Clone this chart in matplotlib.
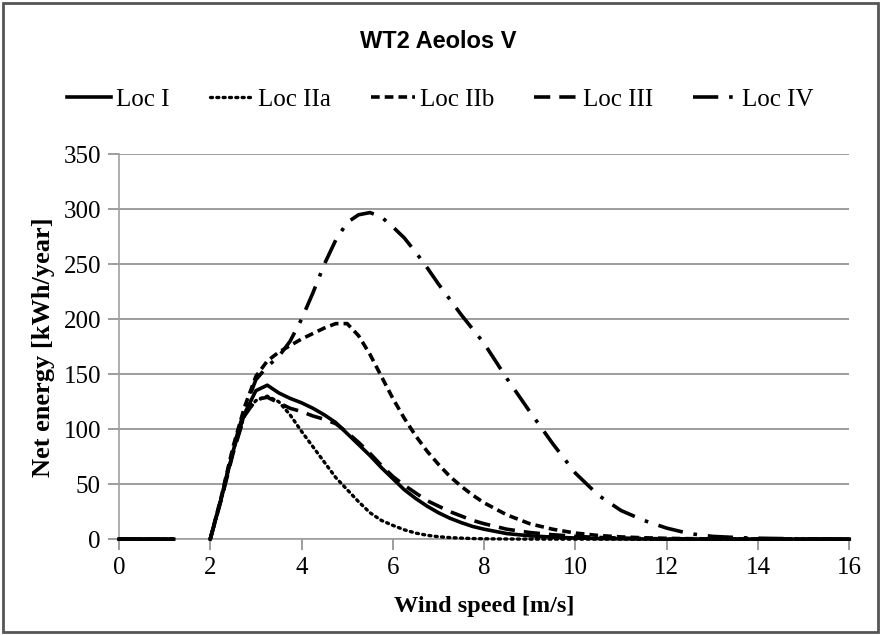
import numpy as np
import matplotlib
matplotlib.use('Agg')
import matplotlib.pyplot as plt
from matplotlib.patches import Rectangle

nan = np.nan

# wind speed [m/s]; gap between 1.2 and 2 in the original chart
wind = [0, 0.6, 1.2, 1.6,
        2.0, 2.25, 2.5, 2.75, 3.0, 3.25, 3.5, 3.75, 4.0, 4.25, 4.5, 4.75,
        5.0, 5.25, 5.5, 5.75, 6.0, 6.25, 6.5, 6.75, 7.0, 7.25, 7.5, 7.75,
        8.0, 8.5, 9.0, 9.5, 10.0, 10.5, 11.0, 11.5, 12.0, 12.5, 13.0,
        13.5, 14.0, 15.0, 16.0]

loc1 = [0, 0, 0, nan,
        0, 38, 80, 114, 135, 140, 133, 128, 124, 119, 113, 106,
        96, 86, 76, 65, 55, 45, 37, 30, 24, 19, 15, 11.5,
        9, 5, 3, 1.8, 1, 0.5, 0.3, 0.1, 0, 0, 0,
        0, 0, 0, 0]
loc2a = [0, 0, 0, nan,
         0, 38, 80, 113, 126, 130, 125, 113, 98, 84, 70, 56,
         45, 34, 24, 17, 12.5, 8.5, 5.5, 3.5, 2.2, 1.4, 0.9, 0.5,
         0.3, 0.1, 0, 0, 0, 0, 0, 0, 0, 0, 0,
         0, 0, 0, 0]
loc2b = [0, 0, 0, nan,
         0, 40, 84, 120, 148, 162, 170, 176, 182, 187, 192, 196,
         196, 185, 168, 148, 128, 110, 94, 80, 68, 57, 48, 40,
         33, 22, 14, 9, 5.5, 3.3, 2, 1.2, 0.7, 0.4, 0.2,
         0.1, 0, 0, 0]
loc3 = [0, 0, 0, nan,
        0, 37, 78, 112, 127, 129, 124, 119, 116, 112, 109, 105,
        97, 88, 78, 67, 57, 49, 42, 35, 30, 25, 21, 17,
        14, 9, 6, 4, 2.5, 1.5, 1, 0.5, 0.3, 0.2, 0.1,
        0, 0, 0, 0]
loc4 = [0, 0, 0, nan,
        0, 39, 82, 118, 145, 157, 166, 180, 200, 224, 250, 272,
        288, 295, 297, 293, 284, 274, 261, 247, 232, 218, 204, 191,
        178, 146, 116, 87, 60, 40, 26, 17, 10, 5, 2.5,
        1.5, 0.8, 0.2, 0]

labels = ['Loc I', 'Loc IIa', 'Loc IIb', 'Loc III', 'Loc IV']

fig = plt.figure(figsize=(8.81, 6.35), dpi=100)
ax = fig.add_axes([0.135, 0.151, 0.829, 0.606])

kw = dict(color='black', clip_on=False, zorder=3)
ax.plot(wind, loc1, lw=2.6, ls='-', label=labels[0], **kw)
ax.plot(wind, loc2a, lw=2.4, ls=(0, (0.6, 1.3)), dash_capstyle='round',
        label=labels[1], **kw)
ax.plot(wind, loc2b, lw=2.6, ls=(0, (2.4, 1.4)), label=labels[2], **kw)
ax.plot(wind, loc3, lw=2.6, ls=(0, (4.5, 2.5)), label=labels[3], **kw)
ax.plot(wind, loc4, lw=2.6, ls=(0, (7, 3, 1, 3)), label=labels[4], **kw)

ax.set_xlim(0, 16)
ax.set_ylim(0, 350)
ax.set_xticks(range(0, 17, 2))
ax.set_yticks(range(0, 351, 50))
ax.yaxis.grid(True, color='#8c8c8c', lw=1.2)
ax.set_axisbelow(True)
for s in ['top', 'right']:
    ax.spines[s].set_visible(False)
for s in ['left', 'bottom']:
    ax.spines[s].set_color('#a0a0a0')
    ax.spines[s].set_linewidth(1.2)
ax.tick_params(axis='both', colors='#8c8c8c', length=8, width=1.2,
               labelcolor='black', labelsize=18, pad=5)
for t in ax.get_xticklabels() + ax.get_yticklabels():
    t.set_family('Liberation Serif')

ax.set_xlabel('Wind speed [m/s]', family='Liberation Serif', fontweight='bold',
              fontsize=17.5, labelpad=12)
ax.set_ylabel('Net energy [kWh/year]', family='Liberation Serif', fontweight='bold',
              fontsize=19, labelpad=6)

fig.text(0.497, 0.935, 'WT2 Aeolos V', ha='center', va='center',
         family='Liberation Sans', fontweight='bold', fontsize=17)

fig.legend(loc='center', bbox_to_anchor=(0.5, 0.843), ncol=5, frameon=False,
           prop={'family': 'Liberation Serif', 'size': 18},
           handlelength=1.75, handletextpad=0.2, columnspacing=1.6)

fig.patches.append(Rectangle((0.003, 0.004), 0.994, 0.992, transform=fig.transFigure,
                             fill=False, edgecolor='#555555', lw=2))

fig.savefig('out.png', dpi=100)
